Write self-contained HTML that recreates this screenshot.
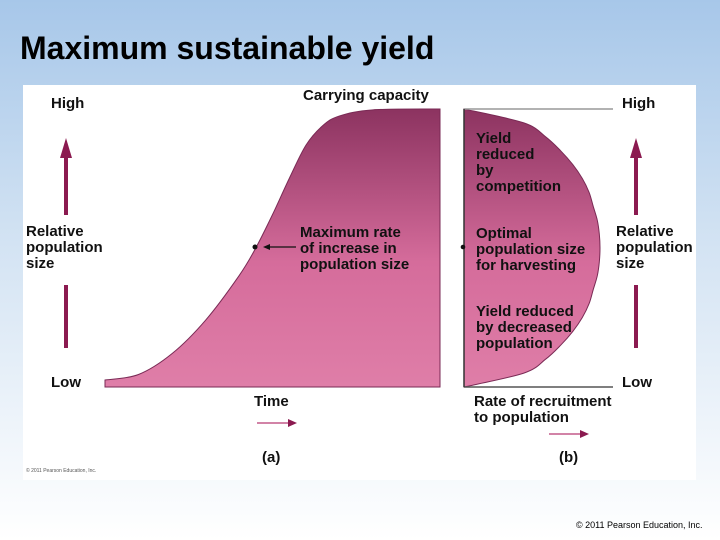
<!DOCTYPE html>
<html><head><meta charset="utf-8"><style>
body{margin:0;width:720px;height:540px;overflow:hidden;background:linear-gradient(#a7c7e9 0%,#d3e3f3 45%,#ffffff 100%);font-family:"Liberation Sans",sans-serif;position:relative}
.t{position:absolute;font-weight:bold;font-size:15px;line-height:16px;color:#111}
</style></head><body>
<div class="t" style="left:20px;top:30px;font-size:32px;line-height:36px;color:#000">Maximum sustainable yield</div>
<svg width="720" height="540" style="position:absolute;left:0;top:0">
<defs><linearGradient id="g" x1="0" y1="0" x2="0" y2="1"><stop offset="0" stop-color="#8c3360"/><stop offset="0.55" stop-color="#d56c9b"/><stop offset="1" stop-color="#df7ea8"/></linearGradient></defs>
<rect x="23" y="85" width="673" height="395" fill="#fff"/>
<g id="chartA"></g>
<g id="chartB"></g>
<line x1="464" y1="109" x2="613" y2="109" stroke="#999" stroke-width="1.5"/>
<line x1="464" y1="387" x2="613" y2="387" stroke="#555" stroke-width="1.5"/>
<line x1="464" y1="109" x2="464" y2="387" stroke="#333" stroke-width="1.5"/>
<g fill="#8b1a50" stroke="#8b1a50">
<line x1="66" y1="215" x2="66" y2="152" stroke-width="4"/><path d="M60,158L66,138L72,158z" stroke="none"/>
<line x1="66" y1="285" x2="66" y2="348" stroke-width="4"/>
<line x1="636" y1="215" x2="636" y2="152" stroke-width="4"/><path d="M630,158L636,138L642,158z" stroke="none"/>
<line x1="636" y1="285" x2="636" y2="348" stroke-width="4"/>
</g>
<path d="M257,423H290" stroke="#c45a8a" stroke-width="1.5"/><path d="M288,419L297,423L288,427z" fill="#8b1a50"/>
<path d="M549,434H582" stroke="#c45a8a" stroke-width="1.5"/><path d="M580,430L589,434L580,438z" fill="#8b1a50"/>
<circle cx="255" cy="247" r="2.5" fill="#111"/><circle cx="463" cy="247" r="2.3" fill="#111"/>
<path d="M296,247H268" stroke="#111" stroke-width="1.2"/><path d="M270,244L263,247L270,250z" fill="#111"/>
</svg>
<div class="t" style="left:51px;top:96px">High</div>
<div class="t" style="left:51px;top:375px">Low</div>
<div class="t" style="left:26px;top:224px">Relative<br>population<br>size</div>
<div class="t" style="left:303px;top:88px">Carrying capacity</div>
<div class="t" style="left:300px;top:225px">Maximum rate<br>of increase in<br>population size</div>
<div class="t" style="left:254px;top:394px">Time</div>
<div class="t" style="left:262px;top:450px">(a)</div>
<div class="t" style="left:622px;top:96px">High</div>
<div class="t" style="left:622px;top:375px">Low</div>
<div class="t" style="left:616px;top:224px">Relative<br>population<br>size</div>
<div class="t" style="left:476px;top:131px">Yield<br>reduced<br>by<br>competition</div>
<div class="t" style="left:476px;top:226px">Optimal<br>population size<br>for harvesting</div>
<div class="t" style="left:476px;top:304px">Yield reduced<br>by decreased<br>population</div>
<div class="t" style="left:474px;top:394px">Rate of recruitment<br>to population</div>
<div class="t" style="left:559px;top:450px">(b)</div>
<div style="position:absolute;left:26px;top:468px;font-size:5px;color:#555">© 2011 Pearson Education, Inc.</div>
<div style="position:absolute;left:576px;top:520px;font-size:9px;color:#000">© 2011 Pearson Education, Inc.</div>
<script>
const times=[0,1,2,3,4,4.5,5,5.5,6,6.5,7,8,10];
const popSize=[2.5,4.5,12,24,40,50,62,75,87,94,97.5,99.7,100];
const popLevels=[0,5,10,15,20,25,30,35,40,45,50,55,60,65,70,75,80,85,90,95,100];
const recruitment=[0,44,60,71,80,87,92,95,98,99.5,100,99.5,98,95,92,87,80,71,60,44,0];
const NS='http://www.w3.org/2000/svg';
const xA=t=>105+t/10*335, yP=n=>387-n/100*278, xB=r=>464+r/100*136;
function smooth(pts){let d='M'+pts[0][0]+','+pts[0][1];for(let i=0;i<pts.length-1;i++){const p0=pts[Math.max(i-1,0)],p1=pts[i],p2=pts[i+1],p3=pts[Math.min(i+2,pts.length-1)];d+=` C${p1[0]+(p2[0]-p0[0])/6},${p1[1]+(p2[1]-p0[1])/6} ${p2[0]-(p3[0]-p1[0])/6},${p2[1]-(p3[1]-p1[1])/6} ${p2[0]},${p2[1]}`;}return d;}
const pa=times.map((t,i)=>[xA(t),yP(popSize[i])]);
const a=document.createElementNS(NS,'path');
a.setAttribute('d',smooth(pa)+` L440,387 L105,387 Z`);
a.setAttribute('fill','url(#g)');a.setAttribute('stroke','#7a2a55');a.setAttribute('stroke-width','1');


document.getElementById('chartA').appendChild(a);
const pb=popLevels.map((n,i)=>[xB(recruitment[i]),yP(n)]);
const b=document.createElementNS(NS,'path');
b.setAttribute('d',smooth(pb)+' Z');
b.setAttribute('fill','url(#g)');b.setAttribute('stroke','#7a2a55');b.setAttribute('stroke-width','1');


document.getElementById('chartB').appendChild(b);
</script>
</body></html>
